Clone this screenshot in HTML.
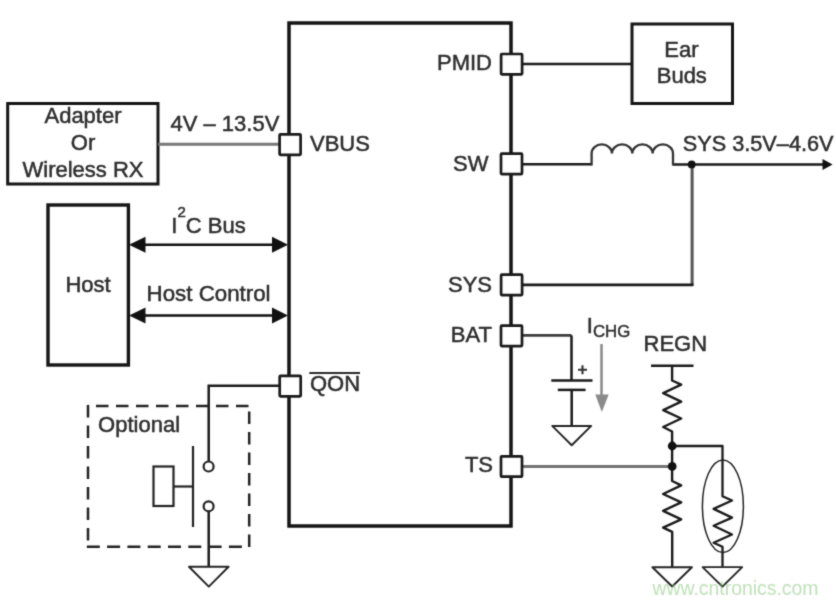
<!DOCTYPE html>
<html><head><meta charset="utf-8"><style>
html,body{margin:0;padding:0;background:#fff;width:836px;height:604px;overflow:hidden}
svg{display:block}
text{font-family:"Liberation Sans",sans-serif;fill:#2e2e2e;stroke:#2e2e2e;stroke-width:0.5px}
</style></head><body>
<svg width="836" height="604" viewBox="0 0 836 604">
<defs><filter id="soft" x="0" y="0" width="836" height="604" filterUnits="userSpaceOnUse" color-interpolation-filters="sRGB"><feConvolveMatrix order="3" kernelMatrix="0.03 0.09 0.03 0.09 0.52 0.09 0.03 0.09 0.03" edgeMode="duplicate"/></filter></defs>
<rect width="836" height="604" fill="#fff"/>
<g filter="url(#soft)">
<g fill="none" stroke="#151515" stroke-linecap="square" stroke-linejoin="miter">
<!-- IC box -->
<rect x="289" y="23" width="222" height="503" stroke-width="3.5"/>
<!-- Adapter box -->
<rect x="7.7" y="103.5" width="150.3" height="80.5" stroke-width="3"/>
<!-- Host box -->
<rect x="48" y="205" width="80.4" height="160" stroke-width="3.4"/>
<!-- Ear buds box -->
<rect x="632" y="24" width="100.5" height="79.5" stroke-width="3"/>
</g>
<!-- wires -->
<g fill="none" stroke="#1a1a1a" stroke-width="2.5">
<line x1="158" y1="144.2" x2="280" y2="144.2" stroke="#777" stroke-width="3"/>
<line x1="522" y1="64" x2="632" y2="64"/>
<path d="M522 164.3 H591.6"/>
<path d="M673 164.4 H823"/>
<path d="M591.6 165.4 V153.6 A10.17 9.2 0 0 1 611.95 153.6 A10.17 9.2 0 0 1 632.3 153.6 A10.17 9.2 0 0 1 652.65 153.6 A10.17 9.2 0 0 1 673 153.6 V165.4" stroke="#333" stroke-width="2.3"/>
<path d="M692.1 164.4 V284.9" stroke="#555" stroke-width="3"/>
<path d="M693.5 284.9 H522" stroke-width="2.7"/>
<path d="M522 335.4 H571.5" stroke="#3c3c3c" stroke-width="2.8"/>
<path d="M571.5 335.4 V380.6"/>
<line x1="551.3" y1="380.6" x2="592.5" y2="380.6"/>
<line x1="557.8" y1="389.9" x2="585.6" y2="389.9"/>
<line x1="571.7" y1="389.9" x2="571.7" y2="425.8"/>
<path d="M279 385.7 H208.7 V461.3"/>
<path d="M208.7 511.5 V566.6"/>
<line x1="651" y1="365.8" x2="693.5" y2="365.8"/>
<path d="M672.1 365.8 V380.5 L681.2 384.6 L663.2 393.2 L681.2 401.7 L663.2 410.1 L681.2 418.5 L663.2 427 L672.1 431.5 V481 L681.2 485.3 L663.1 494 L681.2 502.4 L663.1 510.8 L681.2 519.3 L663.1 527.6 L672.2 531.8 V566.9" stroke-width="2.4" stroke-linejoin="round"/>
<path d="M672.2 446 H722.5 V496.2 L732 500.5 L713.6 508.9 L732 517.6 L713.6 525.8 L732 534.5 L713.6 542.8 L722.5 546.7 V566.8" stroke-width="2.3" stroke-linejoin="round"/>
<line x1="522" y1="466.5" x2="672" y2="466.5" stroke="#737373" stroke-width="3"/>
</g>
<!-- thermistor ellipse -->
<ellipse cx="722.9" cy="506.3" rx="20.5" ry="46.3" fill="none" stroke="#222" stroke-width="1.5"/>
<!-- arrows -->
<g fill="#111" stroke="#111">
<line x1="140" y1="244.8" x2="276" y2="244.8" stroke-width="2.5"/>
<path d="M129 244.8 L145.5 236.8 L145.5 252.8 Z" stroke="none"/>
<path d="M288 244.8 L272 236.8 L272 252.8 Z" stroke="none"/>
<line x1="140" y1="315.5" x2="276" y2="315.5" stroke-width="2.5"/>
<path d="M129 315.5 L145.5 307.5 L145.5 323.5 Z" stroke="none"/>
<path d="M288 315.5 L272 307.5 L272 323.5 Z" stroke="none"/>
<path d="M832.6 164.5 L822.5 159 L822.5 170 Z" stroke="none"/>
<circle cx="691.7" cy="164.4" r="3.9" stroke="none"/>
<circle cx="672.2" cy="446" r="4.4" stroke="none"/>
<circle cx="672.2" cy="466.4" r="4.4" stroke="none"/>
</g>
<!-- I_CHG arrow -->
<line x1="601.5" y1="344" x2="601.5" y2="396" stroke="#8a8a8a" stroke-width="2.5"/>
<path d="M601.8 412 L595.3 394.5 L608.7 394.5 Z" fill="#8a8a8a"/>
<!-- grounds -->
<g fill="none" stroke="#252525" stroke-width="1.95" stroke-linejoin="round">
<path d="M552.2 425.9 H591.2 L571.7 445.3 Z"/>
<path d="M189 566.8 H228.6 L208.8 586.6 Z"/>
<path d="M652.4 567.2 H691.9 L672.2 586.5 Z"/>
<path d="M702.6 567.1 H742.2 L722.4 586.6 Z"/>
</g>
<!-- plus sign -->
<path d="M578 369.8 H587 M582.5 365.3 V374.3" stroke="#333" stroke-width="2.1"/>
<!-- optional dashed box -->
<g fill="none" stroke="#222" stroke-width="2.5">
<line x1="88" y1="406" x2="249.2" y2="406" stroke-dasharray="12.5 7.5" stroke-dashoffset="-8"/>
<line x1="249.2" y1="406" x2="249.2" y2="547.5" stroke-dasharray="12.5 8" stroke-dashoffset="-5.5"/>
<line x1="86.8" y1="546.8" x2="249.2" y2="546.8" stroke-dasharray="13 7.3"/>
<line x1="88" y1="405" x2="88" y2="547" stroke-dasharray="12.5 8"/>
</g>
<!-- pushbutton -->
<g fill="none" stroke="#222" stroke-width="2.2">
<rect x="153.5" y="466.5" width="20" height="39.5" fill="#fff"/>
<line x1="173.5" y1="486.5" x2="193" y2="486.5"/>
<line x1="193" y1="446" x2="193" y2="527"/>
<circle cx="208.6" cy="466.5" r="5"/>
<circle cx="208.6" cy="506.3" r="5"/>
</g>
<!-- pins -->
<g fill="#fff" stroke="#1a1a1a" stroke-width="2.7">
<rect x="279.60" y="134.40" width="21" height="20.4" rx="0.8"/>
<rect x="279.70" y="375.90" width="21" height="20.4" rx="0.8"/>
<rect x="501.10" y="54.00" width="21" height="20.4" rx="0.8"/>
<rect x="501.00" y="153.70" width="21" height="20.4" rx="0.8"/>
<rect x="501.10" y="274.70" width="21" height="20.4" rx="0.8"/>
<rect x="501.00" y="325.70" width="21" height="20.4" rx="0.8"/>
<rect x="501.00" y="456.30" width="21" height="20.4" rx="0.8"/>
</g>
<!-- text -->
<g font-size="22">
<text x="83" y="123" text-anchor="middle">Adapter</text>
<text x="83" y="150.3" text-anchor="middle">Or</text>
<text x="83" y="177.4" text-anchor="middle">Wireless RX</text>
<text x="170.5" y="130.9">4V – 13.5V</text>
<text x="310" y="150.6">VBUS</text>
<text x="310" y="391.1">QON</text>
<text x="492" y="70" text-anchor="end">PMID</text>
<text x="488.5" y="170.7" text-anchor="end">SW</text>
<text x="492" y="291.5" text-anchor="end">SYS</text>
<text x="492" y="341.7" text-anchor="end">BAT</text>
<text x="493" y="472.3" text-anchor="end">TS</text>
<text x="681.4" y="56.6" text-anchor="middle">Ear</text>
<text x="681.8" y="83.4" text-anchor="middle">Buds</text>
<text x="682.8" y="150.6" font-size="21.7">SYS 3.5V–4.6V</text>
<text x="88" y="291.8" text-anchor="middle">Host</text>
<text x="171.3" y="232.7">I<tspan font-size="15" dy="-15.5">2</tspan><tspan dy="15.5">C Bus</tspan></text>
<text x="146.6" y="301.1" font-size="22.3">Host Control</text>
<text x="98.1" y="431.6">Optional</text>
<text x="586.8" y="332.6">I<tspan font-size="16.8" dy="4.2">CHG</tspan></text>
<text x="643.5" y="351">REGN</text>
</g>
<line x1="309.3" y1="373" x2="360" y2="373" stroke="#2b2b2b" stroke-width="1.8"/>
<text x="652.5" y="594.5" font-size="19.4" style="fill:#7cc46e;stroke:none;fill-opacity:0.5">www.cntronics.com</text>
</g>
</svg>
</body></html>
